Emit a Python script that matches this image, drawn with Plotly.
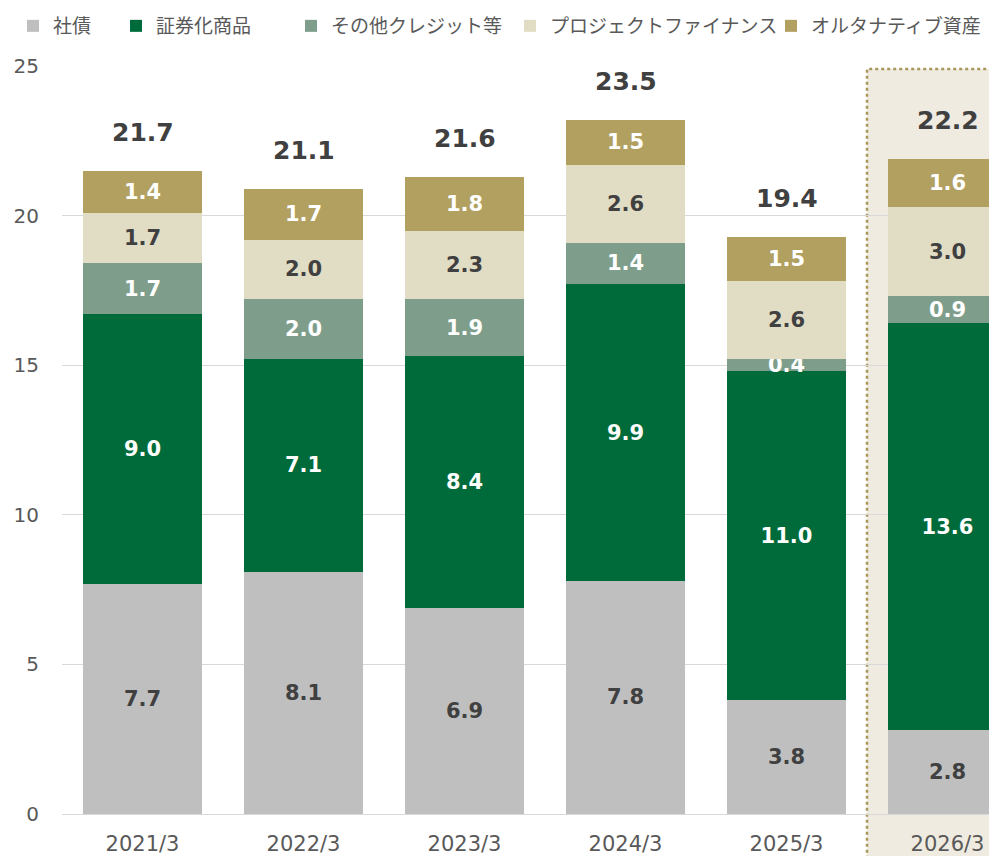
"""残高推移の積み上げ棒グラフ"""
import plotly.graph_objects as go

# データ
categories = ["2021/3", "2022/3", "2023/3", "2024/3", "2025/3", "2026/3"]
series_names = ["社債", "証券化商品", "その他クレジット等", "プロジェクトファイナンス", "オルタナティブ資産"]
corporate_bonds = [7.7, 8.1, 6.9, 7.8, 3.8, 2.8]
securitized = [9.0, 7.1, 8.4, 9.9, 11.0, 13.6]
other_credit = [1.7, 2.0, 1.9, 1.4, 0.4, 0.9]
project_finance = [1.7, 2.0, 2.3, 2.6, 2.6, 3.0]
alternatives = [1.4, 1.7, 1.8, 1.5, 1.5, 1.6]
totals = [21.7, 21.1, 21.6, 23.5, 19.4, 22.2]
y_ticks = [0, 5, 10, 15, 20, 25]

COLORS = ["#bfbfbf", "#006b3a", "#7e9e8b", "#e1dcc4", "#b2a060"]
TEXT_COLORS = ["#404040", "white", "white", "#404040", "white"]
NUM_FONT = "DejaVu Sans, Verdana, sans-serif"
JP_FONT = "Noto Sans CJK JP, sans-serif"

# 凡例ごとの左端位置（px）
LEGEND_X = [13, 116, 291, 510, 771]
LEGEND_KEYS = ["legend", "legend2", "legend3", "legend4", "legend5"]

fig = go.Figure()

series_values = [corporate_bonds, securitized, other_credit, project_finance, alternatives]
for name, values, color, tcolor, lkey in zip(series_names, series_values, COLORS, TEXT_COLORS, LEGEND_KEYS):
    fig.add_trace(go.Bar(
        x=categories,
        y=values,
        name=name,
        legend=lkey,
        marker=dict(color=color, line=dict(width=0)),
        text=[f"{v:.1f}" for v in values],
        texttemplate="<b>%{text}</b>",
        textposition="inside",
        insidetextanchor="middle",
        textangle=0,
        constraintext="none",
        textfont=dict(family=NUM_FONT, size=21, color=tcolor),
        hoverinfo="x+y+name",
    ))

# 合計ラベル（棒の上）
stack_tops = [sum(v) for v in zip(*series_values)]
for cat, top, total in zip(categories, stack_tops, totals):
    fig.add_annotation(
        x=cat, y=top,
        text=f"<b>{total:.1f}</b>",
        showarrow=False,
        yanchor="middle",
        yshift=38,
        font=dict(family=NUM_FONT, size=25, color="#404040"),
    )

# 2026/3 の強調枠
fig.add_shape(
    type="rect",
    xref="x", yref="paper",
    x0=4.5, x1=5.8,
    y0=-0.2, y1=24.9 / 25,
    fillcolor="#efebe0",
    line=dict(color="#a8975a", width=2.5, dash="dot"),
    layer="below",
)

# 凡例を系列ごとに配置
legends = {}
for lkey, lx in zip(LEGEND_KEYS, LEGEND_X):
    legends[lkey] = dict(
        orientation="h",
        xref="container", yref="container",
        x=lx / 989, y=1 - 7 / 856,
        xanchor="left", yanchor="top",
        font=dict(family=JP_FONT, size=19, color="#595959"),
        bgcolor="rgba(0,0,0,0)",
    )

fig.update_layout(
    width=989,
    height=856,
    barmode="stack",
    bargap=0.26,
    margin=dict(l=62, r=0, t=66, b=40),
    paper_bgcolor="white",
    plot_bgcolor="rgba(0,0,0,0)",
    showlegend=True,
    xaxis=dict(
        range=[-0.5, -0.5 + 927 / 161],
        showgrid=False,
        showline=False,
        zeroline=False,
        tickfont=dict(family=NUM_FONT, size=21, color="#595959"),
        ticklabelstandoff=15,
    ),
    yaxis=dict(
        range=[0, 25],
        tickvals=y_ticks,
        showgrid=True,
        gridcolor="#d9d9d9",
        gridwidth=1,
        zeroline=True,
        zerolinecolor="#d9d9d9",
        zerolinewidth=1,
        showline=False,
        tickfont=dict(family=NUM_FONT, size=20, color="#595959"),
        ticklabelstandoff=22,
    ),
    **legends,
)

# ページ余白をなくして 989x856 にぴったり合わせる
fig.write_html(
    "out.html",
    config={"displayModeBar": False},
    post_script="document.body.style.margin='0';",
)
